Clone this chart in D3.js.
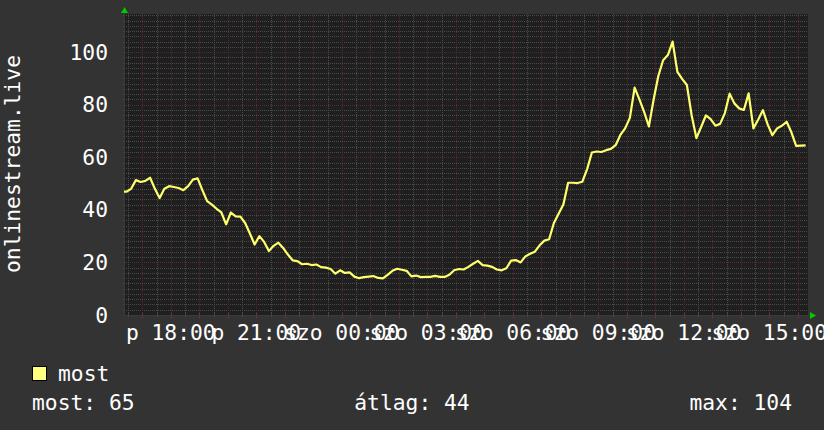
<!DOCTYPE html>
<html>
<head>
<meta charset="utf-8">
<script src="https://cdn.jsdelivr.net/npm/d3@7"></script>
<style>
  html, body { margin: 0; padding: 0; background: #333333; }
  svg { display: block; }
  text { font-family: "DejaVu Sans Mono", monospace; fill: #ffffff; }
</style>
</head>
<body>
<svg id="chart" width="824" height="430"></svg>
<script>
// ---- data ----
const seriesName = "most";
const startTime = new Date(Date.UTC(2024, 2, 1, 16, 21, 30)); // Friday
const stepMinutes = 10;
const values = [
  46.9, 48, 51.3, 50.6, 51, 52.2, 48, 44.5, 48, 49,
  48.7, 48.3, 47.5, 49, 51.5, 52, 47.5, 43.3, 42, 40.4,
  39, 34.5, 39, 37.5, 37.4, 35, 31, 26.8, 30, 27.8,
  24.3, 26.3, 27.5, 25.5, 23, 20.8, 20.5, 19.3, 19.5, 19,
  19.2, 18.2, 18, 17.5, 15.7, 17, 16, 16.2, 14.6, 14,
  14.4, 14.6, 14.8, 14.1, 13.9, 15.3, 16.8, 17.6, 17.2, 16.8,
  14.7, 15, 14.4, 14.5, 14.5, 14.9, 14.5, 14.5, 15.3, 17,
  17.5, 17.3, 18.3, 19.5, 20.6, 19, 18.8, 18.3, 17.3, 17,
  17.8, 20.7, 20.9, 20, 22.3, 23.3, 24.1, 26.5, 28.3, 28.8,
  35, 38.5, 42, 50.3, 50.3, 50.2, 50.7, 55.5, 61.8, 62.2,
  62, 62.7, 63.2, 64.6, 68.5, 71, 75, 86.5, 82, 77.3,
  71.7, 82, 91, 96.9, 98.9, 104, 92.5, 89.8, 87.5, 76,
  67.3, 71.5, 75.9, 74.5, 72, 72.7, 76.8, 84.2, 80.5, 78.6,
  78, 84.3, 71, 74.3, 77.9, 72.5, 68.4, 71, 72, 73.5,
  69.5, 64.3, 64.4, 64.5
];
const yTicks = [0, 20, 40, 60, 80, 100];
const dayAbbr = ["v", "h", "k", "sze", "cs", "p", "szo"];
const yAxisTitle = "onlinestream.live";
const statLabels = ["most", "átlag", "max"];
const statValues = [65, 44, 104];

// ---- layout ----
const W = 824, H = 430;
const L = 124, R = 808, T = 14, B = 315;
const endTime = new Date(startTime.getTime() + 24 * 3600 * 1000);

const svg = d3.select("#chart");
svg.append("rect").attr("width", W).attr("height", H).attr("fill", "#333333");

const x = d3.scaleUtc().domain([startTime, endTime]).range([L, R]);
const y = d3.scaleLinear().domain([0, 114.5]).range([B, T]);

// plot canvas
svg.append("rect").attr("x", L).attr("y", T).attr("width", R - L).attr("height", B - T)
  .attr("fill", "#1f1f1f");

const grid = svg.append("g").attr("shape-rendering", "crispEdges");
const minorCol = "#4a4a4a", majorCol = "#52292c";

// horizontal grid
const hMinor = d3.range(2, 114.5, 2);
hMinor.forEach(v => {
  const major = Math.abs(v % 20) < 1e-9;
  grid.append("line")
    .attr("x1", L).attr("x2", R)
    .attr("y1", Math.round(y(v)) + 0.5).attr("y2", Math.round(y(v)) + 0.5)
    .attr("stroke", major ? majorCol : minorCol)
    .attr("stroke-dasharray", "1,1");
  grid.append("line")
    .attr("x1", major ? L - 2 : L - 1).attr("x2", L + (major ? 2 : 1))
    .attr("y1", Math.round(y(v)) + 0.5).attr("y2", Math.round(y(v)) + 0.5)
    .attr("stroke", major ? majorCol : minorCol);
});

// vertical grid
const vMinor = d3.utcMinute.every(30).range(startTime, endTime);
vMinor.forEach(t => {
  const major = t.getUTCMinutes() === 0;
  const xp = Math.round(x(t)) + 0.5;
  grid.append("line")
    .attr("x1", xp).attr("x2", xp)
    .attr("y1", T).attr("y2", B)
    .attr("stroke", major ? majorCol : minorCol)
    .attr("stroke-dasharray", "1,1");
  grid.append("line")
    .attr("x1", xp).attr("x2", xp)
    .attr("y1", B - 2).attr("y2", B + (major ? 3 : 2))
    .attr("stroke", major ? "#7a3038" : minorCol);
});

// axes lines
grid.append("line").attr("x1", L + 0.5).attr("x2", L + 0.5).attr("y1", T - 3).attr("y2", B + 1)
  .attr("stroke", "#3a3a3a");
grid.append("line").attr("x1", L).attr("x2", R + 4).attr("y1", B + 0.5).attr("y2", B + 0.5)
  .attr("stroke", "#3a3a3a");
// arrows
svg.append("path").attr("d", `M${L - 3},${T - 1} L${L + 4},${T - 1} L${L + 0.5},${T - 7} Z`).attr("fill", "#00cc00");
svg.append("path").attr("d", `M${R + 2},${B - 3} L${R + 2},${B + 4} L${R + 8},${B + 0.5} Z`).attr("fill", "#00cc00");

// data line
const pts = values.map((v, i) => ({ t: new Date(startTime.getTime() + (i + 0.5) * stepMinutes * 60000), v }));
pts.unshift({ t: startTime, v: values[0] });
pts.push({ t: new Date(startTime.getTime() + values.length * stepMinutes * 60000 - 5 * 60000), v: values[values.length - 1] });
const line = d3.line().x(d => x(d.t)).y(d => y(d.v)).curve(d3.curveLinear);
svg.append("path").datum(pts).attr("d", line)
  .attr("fill", "none").attr("stroke", "#ffff6e").attr("stroke-width", 2.2)
  .attr("stroke-linejoin", "round");

// y tick labels
const fs = 21.3;
svg.append("g").selectAll("text").data(yTicks).join("text")
  .attr("x", 108).attr("y", d => y(d) + 7.5)
  .attr("text-anchor", "end").attr("font-size", fs)
  .text(d => d);

// x tick labels
const xLabelTicks = d3.utcHour.every(3).range(startTime, endTime);
svg.append("g").selectAll("text").data(xLabelTicks).join("text")
  .attr("x", d => x(d)).attr("y", 339.5)
  .attr("text-anchor", "middle").attr("font-size", fs)
  .text(d => `${dayAbbr[d.getUTCDay()]} ${d3.utcFormat("%H:%M")(d)}`);

// y axis title
svg.append("text")
  .attr("transform", `translate(20,164) rotate(-90)`)
  .attr("text-anchor", "middle").attr("font-size", fs)
  .text(yAxisTitle);

// legend
svg.append("rect").attr("x", 32.5).attr("y", 366.5).attr("width", 14).attr("height", 14)
  .attr("fill", "#ffff80").attr("stroke", "#000000").attr("stroke-width", 1);
svg.append("text").attr("x", 58).attr("y", 381).attr("font-size", fs).text(seriesName);

const statY = 409.5;
svg.append("text").attr("x", 32).attr("y", statY).attr("font-size", fs)
  .text(`${statLabels[0]}: ${statValues[0]}`);
svg.append("text").attr("x", W / 2).attr("y", statY).attr("font-size", fs).attr("text-anchor", "middle")
  .text(`${statLabels[1]}: ${statValues[1]}`);
svg.append("text").attr("x", 792).attr("y", statY).attr("font-size", fs).attr("text-anchor", "end")
  .text(`${statLabels[2]}: ${statValues[2]}`);
</script>
</body>
</html>
